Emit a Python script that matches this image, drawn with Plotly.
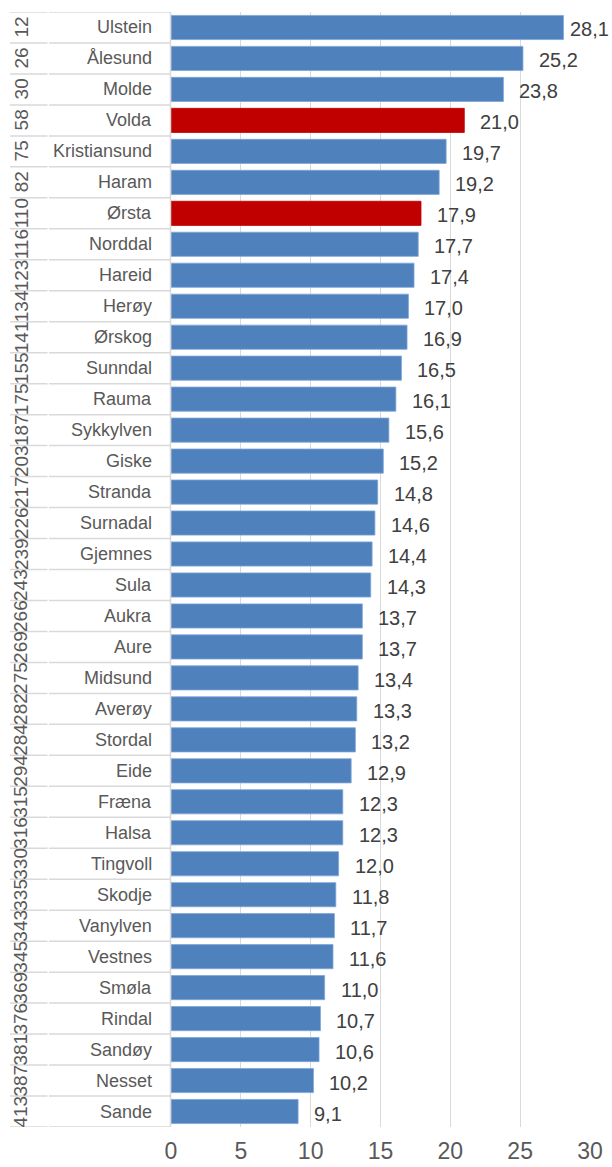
import plotly.graph_objects as go

names = ["Ulstein", "Ålesund", "Molde", "Volda", "Kristiansund", "Haram", "Ørsta",
         "Norddal", "Hareid", "Herøy", "Ørskog", "Sunndal", "Rauma", "Sykkylven",
         "Giske", "Stranda", "Surnadal", "Gjemnes", "Sula", "Aukra", "Aure",
         "Midsund", "Averøy", "Stordal", "Eide", "Fræna", "Halsa", "Tingvoll",
         "Skodje", "Vanylven", "Vestnes", "Smøla", "Rindal", "Sandøy", "Nesset", "Sande"]
ranks = ["12", "26", "30", "58", "75", "82", "110", "116", "123", "134", "141", "155",
         "175", "187", "203", "217", "226", "239", "243", "266", "269", "275", "282",
         "284", "294", "315", "316", "330", "335", "343", "345", "369", "376", "381",
         "387", "413"]
values = [28.1, 25.2, 23.8, 21.0, 19.7, 19.2, 17.9, 17.7, 17.4, 17.0, 16.9, 16.5,
          16.1, 15.6, 15.2, 14.8, 14.6, 14.4, 14.3, 13.7, 13.7, 13.4, 13.3, 13.2,
          12.9, 12.3, 12.3, 12.0, 11.8, 11.7, 11.6, 11.0, 10.7, 10.6, 10.2, 9.1]
highlight = ["Volda", "Ørsta"]
x_ticks = [0, 5, 10, 15, 20, 25, 30]

W, H = 612, 1167
L, R, T, B = 171, 22, 12, 40
PW = W - L - R
XMAX = 30
FONT = "Arial, Liberation Sans, sans-serif"
BLUE = "#4F81BD"
RED = "#C00000"
GRID = "#D9D9D9"

idx = list(range(len(names)))
colors = [RED if n in highlight else BLUE for n in names]
line_colors = [RED if n in highlight else "#7EA6D8" for n in names]

fig = go.Figure()
fig.add_trace(go.Bar(
    y=idx, x=values, orientation="h",
    marker=dict(color=colors, line=dict(color=line_colors, width=0.8)),
    hoverinfo="skip",
))


def px2paper(px):
    return (px - L) / PW


LABEL_SHIFT = 14
LABEL_W = 42
annotations = []
for i, (n, r, v) in enumerate(zip(names, ranks, values)):
    label = f"{v:.1f}".replace(".", ",")
    end_px = L + v / XMAX * PW + LABEL_SHIFT + LABEL_W
    if end_px > W:
        lab = dict(x=px2paper(W - 1), xref="paper", xanchor="right", xshift=0)
    else:
        lab = dict(x=v, xref="x", xanchor="left", xshift=LABEL_SHIFT)
    annotations.append(dict(
        y=i, yref="y", text=label, showarrow=False, yanchor="middle", yshift=-2,
        font=dict(family=FONT, size=20, color="#404040"), **lab,
    ))
    annotations.append(dict(
        x=px2paper(154), y=i, xref="paper", yref="y", text=n,
        showarrow=False, xanchor="right", yanchor="middle",
        font=dict(family=FONT, size=18, color="#595959"),
    ))
    annotations.append(dict(
        x=px2paper(21), y=i, xref="paper", yref="y", text=r, textangle=-90,
        showarrow=False, xanchor="center", yanchor="middle",
        font=dict(family=FONT, size=19, color="#595959"),
    ))

shapes = []
n_rows = len(names)
for k in range(n_rows + 1):
    yb = k - 0.5
    shapes.append(dict(type="line", xref="paper", yref="y",
                       x0=px2paper(10), x1=px2paper(47.5), y0=yb, y1=yb,
                       line=dict(color=GRID, width=1.5)))
    shapes.append(dict(type="line", xref="paper", yref="y",
                       x0=px2paper(49), x1=px2paper(171), y0=yb, y1=yb,
                       line=dict(color=GRID, width=1.5)))
shapes.append(dict(type="line", xref="paper", yref="paper",
                   x0=px2paper(170.5), x1=px2paper(170.5), y0=0, y1=1,
                   line=dict(color=GRID, width=1.5)))

fig.update_layout(
    width=W, height=H,
    margin=dict(l=L, r=R, t=T, b=B, pad=0, autoexpand=False),
    paper_bgcolor="white", plot_bgcolor="white",
    showlegend=False, bargap=0.22,
    annotations=annotations, shapes=shapes,
    xaxis=dict(range=[0, XMAX], tickvals=x_ticks, ticktext=[str(t) for t in x_ticks],
               showgrid=True, gridcolor=GRID, gridwidth=1.3, zeroline=False,
               showline=False, ticks="", ticklen=0, ticklabelstandoff=8,
               automargin=False,
               tickfont=dict(family=FONT, size=23, color="#595959")),
    yaxis=dict(range=[n_rows - 0.5, -0.5], showticklabels=False, showgrid=False,
               zeroline=False, showline=False, ticks="", automargin=False),
)

fig.write_html("out.html", config={"displayModeBar": False},
               post_script="document.body.style.margin='0';")
